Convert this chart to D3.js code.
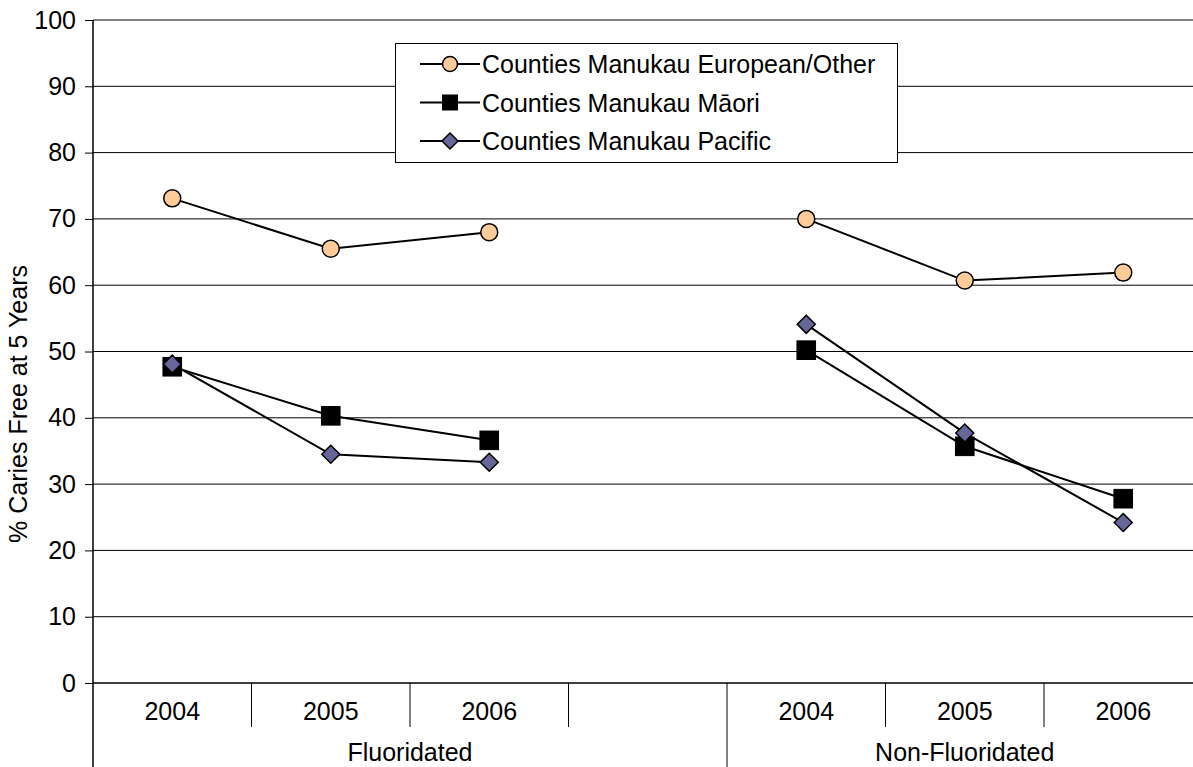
<!DOCTYPE html>
<html>
<head>
<meta charset="utf-8">
<script src="https://cdn.jsdelivr.net/npm/d3@7"></script>
<style>
  body { margin: 0; background: #fff; }
  text { font-family: "Liberation Sans", Arial, sans-serif; fill: #000; }
</style>
</head>
<body>
<div id="chart"></div>
<script>
// categories: 7 slots, the 4th one is an empty gap between the groups
const groups = ["Fluoridated", "Non-Fluoridated"];
const years = ["2004", "2005", "2006", "", "2004", "2005", "2006"];
const slotGroup = [0, 0, 0, 0, 1, 1, 1];

// values (% caries free at 5 years), null where there is no point
const european = [73.1, 65.5, 68.0, null, 70.0, 60.7, 61.9];
const maori = [47.7, 40.3, 36.6, null, 50.2, 35.7, 27.8];
const pacific = [48.1, 34.5, 33.3, null, 54.1, 37.7, 24.2];

const yTicks = [0, 10, 20, 30, 40, 50, 60, 70, 80, 90, 100];

const series = [
    { name: "Counties Manukau European/Other", values: european, shape: "circle", fill: "#FFCC99" },
    { name: "Counties Manukau Māori", values: maori, shape: "square", fill: "#000000" },
    { name: "Counties Manukau Pacific", values: pacific, shape: "diamond", fill: "#666699" }
];

const W = 1193, H = 767;
const plot = { left: 93, right: 1202.5, top: 20, bottom: 683 };
const fontSize = 25;

const svg = d3.select("#chart").append("svg")
    .attr("width", W).attr("height", H);

const xScale = d3.scaleBand().domain(d3.range(years.length)).range([plot.left, plot.right]).padding(0);
const yScale = d3.scaleLinear().domain([0, 100]).range([plot.bottom, plot.top]);
const cx = i => xScale(i) + xScale.bandwidth() / 2;

// gridlines
svg.append("g").selectAll("line")
    .data(yTicks.filter(d => d > 0))
    .join("line")
    .attr("x1", plot.left).attr("x2", W)
    .attr("y1", d => yScale(d)).attr("y2", d => yScale(d))
    .attr("stroke", "#000").attr("stroke-width", 1);

// y axis
const yAxis = d3.axisLeft(yScale).tickValues(yTicks).tickSize(8).tickPadding(9);
const gy = svg.append("g").attr("transform", `translate(${plot.left},0)`).call(yAxis);
gy.select(".domain").remove();
gy.selectAll(".tick line").attr("stroke", "#000");
gy.selectAll(".tick text").attr("font-size", fontSize).attr("font-family", "Liberation Sans, Arial, sans-serif");
svg.append("line")
    .attr("x1", plot.left).attr("x2", plot.left).attr("y1", plot.top).attr("y2", H)
    .attr("stroke", "#000").attr("stroke-width", 1.5);

// zero line
svg.append("line")
    .attr("x1", plot.left).attr("x2", W).attr("y1", plot.bottom).attr("y2", plot.bottom)
    .attr("stroke", "#000").attr("stroke-width", 1.5);

// category separators
const seps = d3.range(1, years.length);
svg.append("g").selectAll("line")
    .data(seps)
    .join("line")
    .attr("x1", i => xScale(i)).attr("x2", i => xScale(i))
    .attr("y1", plot.bottom)
    .attr("y2", i => slotGroup[i] !== slotGroup[i - 1] ? H : 727)
    .attr("stroke", "#000").attr("stroke-width", 1);

// year labels
svg.append("g").selectAll("text")
    .data(years.map((y, i) => ({ y, i })).filter(d => d.y))
    .join("text")
    .attr("x", d => cx(d.i))
    .attr("y", 711)
    .attr("text-anchor", "middle")
    .attr("dominant-baseline", "central")
    .attr("font-size", fontSize)
    .text(d => d.y);

// group labels
svg.append("g").selectAll("text")
    .data(groups)
    .join("text")
    .attr("x", (g, gi) => {
        const idx = slotGroup.map((s, i) => s === gi ? i : -1).filter(i => i >= 0);
        return (xScale(d3.min(idx)) + xScale(d3.max(idx)) + xScale.bandwidth()) / 2;
    })
    .attr("y", 752)
    .attr("text-anchor", "middle")
    .attr("dominant-baseline", "central")
    .attr("font-size", fontSize)
    .text(d => d);

// y axis title
svg.append("text")
    .attr("transform", "translate(27,404) rotate(-90)")
    .attr("text-anchor", "middle")
    .attr("font-size", fontSize)
    .text("% Caries Free at 5 Years");

function drawMarker(g, shape, fill, size) {
    if (shape === "circle") {
        g.append("circle").attr("r", size).attr("fill", fill).attr("stroke", "#000").attr("stroke-width", 1.5);
    } else if (shape === "square") {
        g.append("rect").attr("x", -size).attr("y", -size).attr("width", size * 2).attr("height", size * 2)
            .attr("fill", fill).attr("stroke", "#000").attr("stroke-width", 1);
    } else {
        g.append("path").attr("d", `M0,${-size}L${size},0L0,${size}L${-size},0Z`)
            .attr("fill", fill).attr("stroke", "#000").attr("stroke-width", 1.5);
    }
}

const markerSize = { circle: 8.5, square: 9.3, diamond: 9 };
const legendMarkerSize = { circle: 7.5, square: 7.5, diamond: 8 };

// lines + markers
const line = d3.line()
    .defined(d => d.v !== null)
    .x(d => cx(d.i))
    .y(d => yScale(d.v));

series.forEach(s => {
    const pts = s.values.map((v, i) => ({ v, i }));
    svg.append("path")
        .datum(pts)
        .attr("d", line)
        .attr("fill", "none")
        .attr("stroke", "#000")
        .attr("stroke-width", 2);
    pts.filter(d => d.v !== null).forEach(d => {
        const g = svg.append("g").attr("transform", `translate(${cx(d.i)},${yScale(d.v)})`);
        drawMarker(g, s.shape, s.fill, markerSize[s.shape]);
    });
});

// legend
const legend = svg.append("g");
legend.append("rect")
    .attr("x", 395.5).attr("y", 43.5).attr("width", 502).attr("height", 119)
    .attr("fill", "#fff").attr("stroke", "#000").attr("stroke-width", 1);
const legendRows = [64, 102.5, 141];
series.forEach((s, k) => {
    const row = legend.append("g").attr("transform", `translate(0,${legendRows[k]})`);
    row.append("line").attr("x1", 420).attr("x2", 480).attr("y1", 0).attr("y2", 0)
        .attr("stroke", "#000").attr("stroke-width", 2);
    const m = row.append("g").attr("transform", "translate(450,0)");
    drawMarker(m, s.shape, s.fill, legendMarkerSize[s.shape]);
    row.append("text")
        .attr("x", 482).attr("y", 0)
        .attr("dominant-baseline", "central")
        .attr("font-size", fontSize)
        .text(s.name);
});
</script>
</body>
</html>
